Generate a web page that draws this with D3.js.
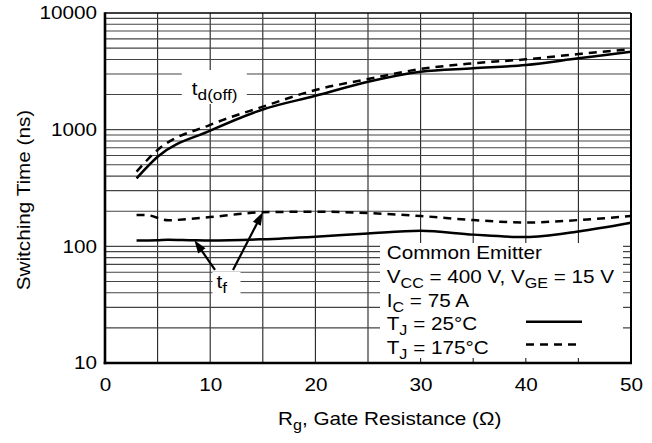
<!DOCTYPE html>
<html>
<head>
<meta charset="utf-8">
<script src="https://cdn.jsdelivr.net/npm/d3@7"></script>
<style>
  html, body { margin: 0; padding: 0; background: #fff; }
  svg { display: block; }
  text { font-family: "Liberation Sans", Arial, Helvetica, sans-serif; fill: #000; }
</style>
</head>
<body>
<svg id="chart" width="652" height="443"></svg>
<script>
// Gate resistance (ohm) sample points
const rgTd = [3, 5, 10, 15, 20, 25, 30, 35, 40, 45, 50];
// Turn-off delay time t_d(off), ns
const tdOff25 = [383, 586, 980, 1490, 1950, 2576, 3140, 3356, 3583, 4087, 4660];
const tdOff175 = [437, 670, 1100, 1574, 2188, 2717, 3311, 3706, 4007, 4449, 4910];

// Fall time t_f, ns
const rgTf25 = [3, 5, 6, 8, 10, 15, 20, 25, 30, 35, 40, 45, 50];
const tf25 = [112, 113, 114, 113, 112, 115, 121, 129, 136, 126, 120, 134, 159];
const rgTf175 = [3, 4, 6, 8, 10, 12.5, 15, 20, 25, 30, 35, 40, 45, 50];
const tf175 = [186, 185, 167, 172, 178, 188, 196, 198, 193, 182, 168, 160, 168, 182];

// Axis ticks
const xTicks = [0, 10, 20, 30, 40, 50];
const yTicks = [10, 100, 1000, 10000];

// Annotation anchors (data space)
const tdLabel = { rg: 8.25, ns: 1980 };
const tfLabel = { rg: 10.6, ns: 44 };
const tfTargets = [{ rg: 8.5, ns: 113 }, { rg: 15, ns: 196 }];

// Legend lines
const legendLines = [
  [["Common Emitter"]],
  [["V"], ["CC", true], [" = 400 V, V"], ["GE", true], [" = 15 V"]],
  [["I"], ["C", true], [" = 75 A"]],
  [["T"], ["J", true], [" = 25°C"]],
  [["T"], ["J", true], [" = 175°C"]]
];
const legendStyles = [null, null, null, "solid", "dash"];

const SX = 1.15;          // horizontal text stretch
const FS = 18, SUB = 15;  // font sizes
const DASH = "8,6";

const svg = d3.select("#chart");
const x = d3.scaleLinear().domain([0, 50]).range([105, 631]);
const y = d3.scaleLog().domain([10, 10000]).range([363, 13]);
const [x0, x1] = x.range();
const [y0, y1] = y.range();

// rich text: parts = [[str, isSub], ...]
function richText(parent, px, py, parts, opts = {}) {
  const g = parent.append("g")
    .attr("transform", `translate(${px},${py}) rotate(${opts.rotate || 0}) scale(${SX},1)`);
  const t = g.append("text")
    .attr("font-size", opts.size || FS)
    .attr("text-anchor", opts.anchor || "start");
  let sub = false;
  parts.forEach(([s, isSub]) => {
    const ts = t.append("tspan").text(s);
    if (isSub && !sub) { ts.attr("font-size", opts.subSize || 14).attr("dy", 5); sub = true; }
    else if (!isSub && sub) { ts.attr("dy", -5); sub = false; }
  });
  return g;
}

// grid
const grid = svg.append("g");
d3.range(5, 50, 5).forEach(v => {
  grid.append("line").attr("x1", x(v)).attr("x2", x(v)).attr("y1", y0).attr("y2", y1)
    .attr("stroke", "#222").attr("stroke-width", 1.1);
});
[10, 100, 1000].forEach(dec => {
  d3.range(1, 10).forEach(m => {
    const v = dec * m;
    if (v === 10) return;
    grid.append("line").attr("x1", x0).attr("x2", x1).attr("y1", y(v)).attr("y2", y(v))
      .attr("stroke", "#444").attr("stroke-width", 1.1);
  });
});

// white backing boxes for labels and legend
const tdX = x(tdLabel.rg), tdY = y(tdLabel.ns);
svg.append("rect").attr("x", tdX - 10).attr("y", tdY - 25).attr("width", 65).attr("height", 34).attr("fill", "#fff");
const tfX = x(tfLabel.rg), tfY = y(tfLabel.ns);
svg.append("rect").attr("x", tfX - 4).attr("y", tfY - 16).attr("width", 28).attr("height", 23).attr("fill", "#fff");
const legX = 380, legTop = 243;
svg.append("rect").attr("x", legX).attr("y", legTop).attr("width", 243).attr("height", y0 - 5 - legTop).attr("fill", "#fff");

// curves
const line = (xs) => d3.line().x((d, i) => x(xs[i])).y(d => y(d)).curve(d3.curveMonotoneX);
const curves = svg.append("g").attr("fill", "none").attr("stroke", "#000").attr("stroke-width", 2.5);
curves.append("path").attr("d", line(rgTd)(tdOff25));
curves.append("path").attr("d", line(rgTd)(tdOff175)).attr("stroke-dasharray", DASH);
curves.append("path").attr("d", line(rgTf25)(tf25));
curves.append("path").attr("d", line(rgTf175)(tf175)).attr("stroke-dasharray", DASH);

// frame
svg.append("line").attr("x1", x0).attr("x2", x1).attr("y1", y1).attr("y2", y1).attr("stroke", "#000").attr("stroke-width", 1.5);
svg.append("line").attr("x1", x1).attr("x2", x1).attr("y1", y1).attr("y2", y0).attr("stroke", "#000").attr("stroke-width", 2);
svg.append("line").attr("x1", x0).attr("x2", x0).attr("y1", y1 - 0.7).attr("y2", y0 + 1.3).attr("stroke", "#000").attr("stroke-width", 2.6);
svg.append("line").attr("x1", x0 - 1.3).attr("x2", x1 + 1).attr("y1", y0).attr("y2", y0).attr("stroke", "#000").attr("stroke-width", 2.6);

// axes labels
const xAxis = svg.append("g").attr("transform", `translate(0,${y0})`)
  .call(d3.axisBottom(x).tickValues(xTicks).tickSize(0).tickPadding(15).tickFormat(d3.format("d")));
const yAxis = svg.append("g").attr("transform", `translate(${x0},0)`)
  .call(d3.axisLeft(y).tickValues(yTicks).tickSize(0).tickPadding(7).tickFormat(d3.format("d")));
[xAxis, yAxis].forEach(a => {
  a.select(".domain").remove();
  a.selectAll("text").attr("font-size", FS).attr("font-family", null).attr("fill", "#000")
    .attr("transform", `scale(${SX},1)`);
  a.attr("font-family", null).attr("font-size", null);
});

// axis titles
richText(svg, 389.7, 425, [["R"], ["g", true], [", Gate Resistance (Ω)"]], { anchor: "middle" });
richText(svg, 29.5, (y0 + y1) / 2 + 12, [["Switching Time (ns)"]], { anchor: "middle", rotate: -90 });

// curve labels
richText(svg, tdX, tdY, [["t"], ["d(off)", true]], { subSize: SUB });
richText(svg, tfX, tfY, [["t"], ["f", true]], { subSize: SUB });

// arrows from t_f label to its curves
const tails = [[tfX - 1.5, tfY - 18], [tfX + 16.5, tfY - 18]];
tfTargets.forEach((t, i) => {
  const tx = x(t.rg), ty = y(t.ns);
  const [sx, sy] = tails[i];
  const dx = tx - sx, dy = ty - sy, len = Math.hypot(dx, dy);
  const ux = dx / len, uy = dy / len;
  const headL = 13, headW = 4.5;
  const bx = tx - ux * headL, by = ty - uy * headL;
  svg.append("line").attr("x1", sx).attr("y1", sy).attr("x2", bx + ux * 2).attr("y2", by + uy * 2)
    .attr("stroke", "#000").attr("stroke-width", 2.2);
  svg.append("path")
    .attr("d", `M${tx},${ty}L${bx - uy * headW},${by + ux * headW}L${bx + uy * headW},${by - ux * headW}Z`)
    .attr("fill", "#000");
});

// legend
legendLines.forEach((parts, i) => {
  const by = 259 + i * 23.75;
  richText(svg, 386.7, by, parts);
  if (legendStyles[i]) {
    const l = svg.append("line").attr("x1", 526).attr("x2", 582).attr("y1", by - 8.5).attr("y2", by - 8.5)
      .attr("stroke", "#000").attr("stroke-width", 2.5);
    if (legendStyles[i] === "dash") l.attr("stroke-dasharray", DASH).attr("y1", by - 9.5).attr("y2", by - 9.5);
  }
});
</script>
</body>
</html>
